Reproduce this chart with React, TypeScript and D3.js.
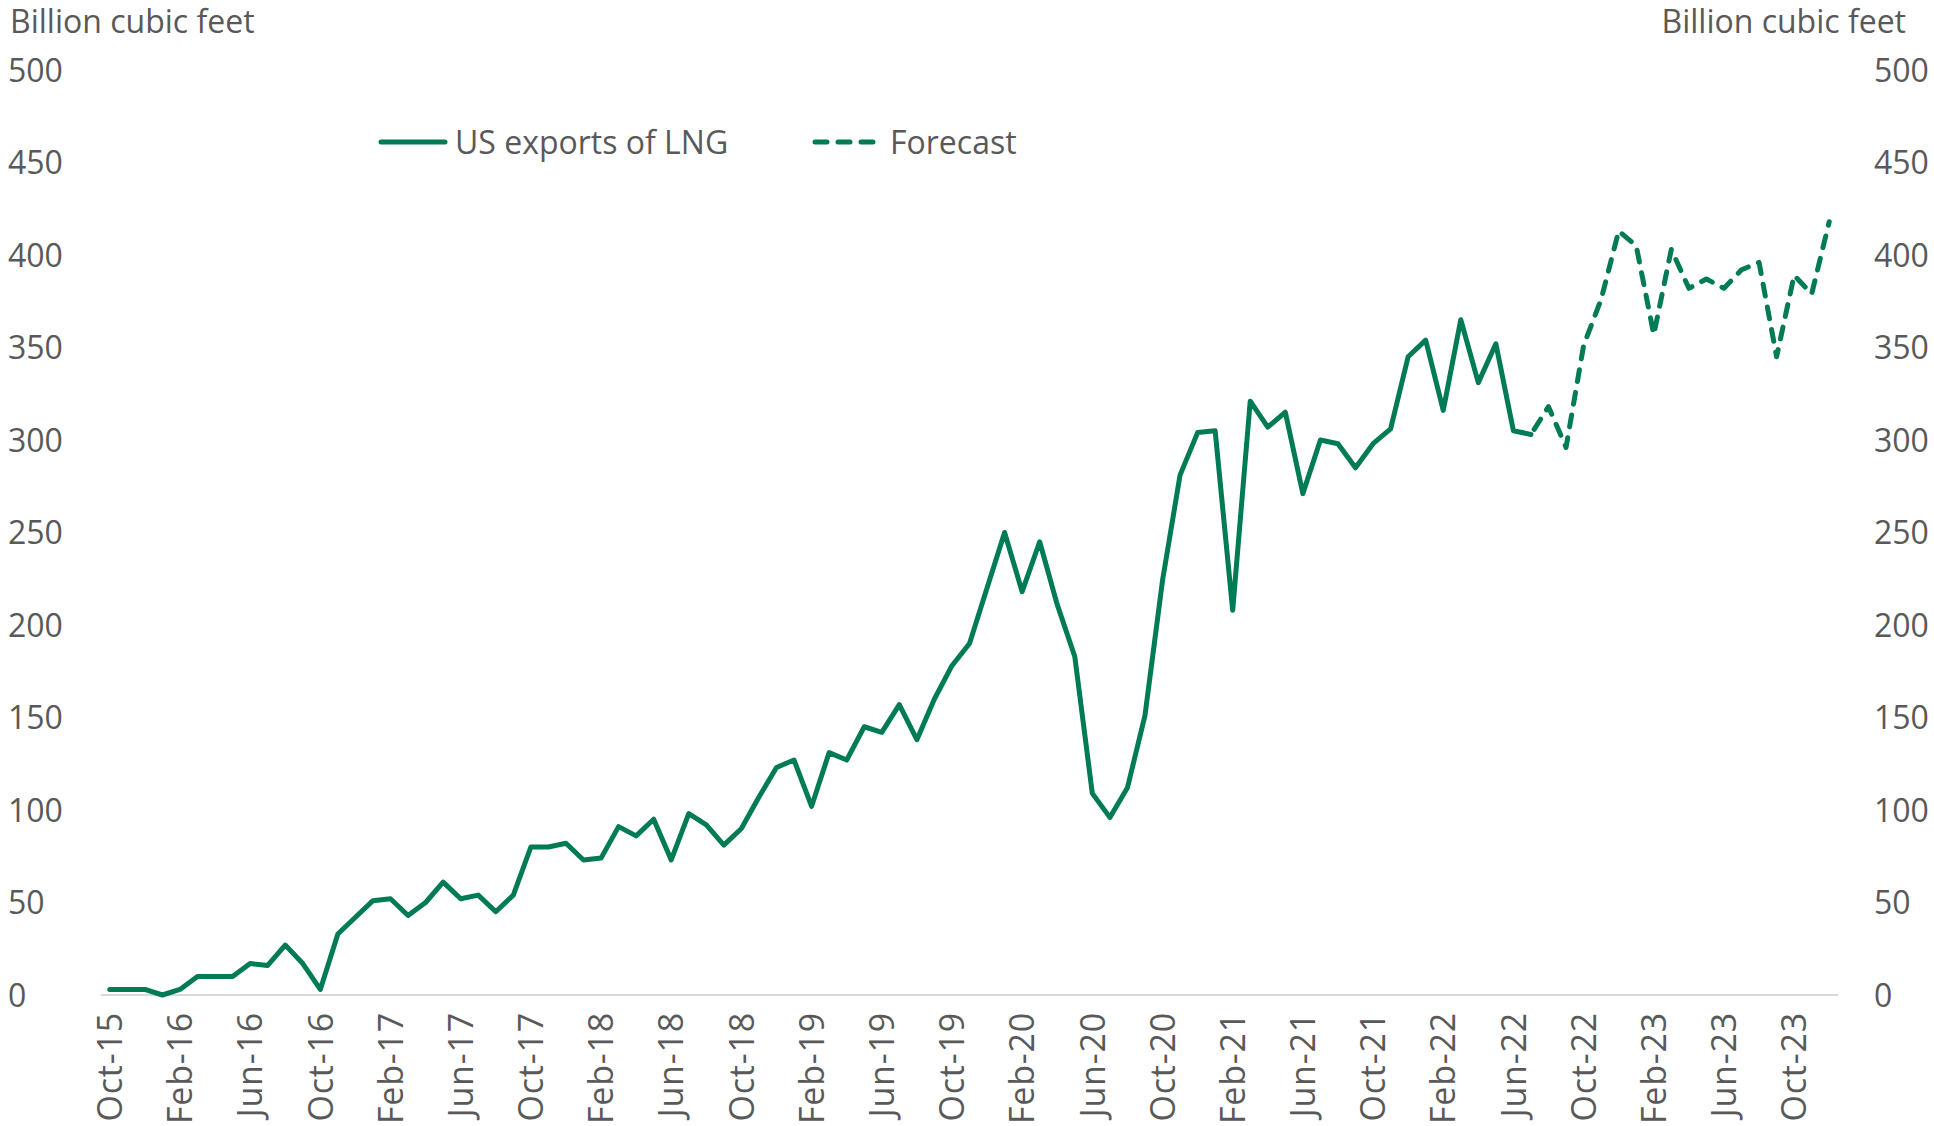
import React, { useEffect, useRef } from "react";
import * as d3 from "d3";

const months: string[] = [
  "Oct-15","Nov-15","Dec-15",
  "Jan-16","Feb-16","Mar-16","Apr-16","May-16","Jun-16","Jul-16","Aug-16","Sep-16","Oct-16","Nov-16","Dec-16",
  "Jan-17","Feb-17","Mar-17","Apr-17","May-17","Jun-17","Jul-17","Aug-17","Sep-17","Oct-17","Nov-17","Dec-17",
  "Jan-18","Feb-18","Mar-18","Apr-18","May-18","Jun-18","Jul-18","Aug-18","Sep-18","Oct-18","Nov-18","Dec-18",
  "Jan-19","Feb-19","Mar-19","Apr-19","May-19","Jun-19","Jul-19","Aug-19","Sep-19","Oct-19","Nov-19","Dec-19",
  "Jan-20","Feb-20","Mar-20","Apr-20","May-20","Jun-20","Jul-20","Aug-20","Sep-20","Oct-20","Nov-20","Dec-20",
  "Jan-21","Feb-21","Mar-21","Apr-21","May-21","Jun-21","Jul-21","Aug-21","Sep-21","Oct-21","Nov-21","Dec-21",
  "Jan-22","Feb-22","Mar-22","Apr-22","May-22","Jun-22","Jul-22","Aug-22","Sep-22","Oct-22","Nov-22","Dec-22",
  "Jan-23","Feb-23","Mar-23","Apr-23","May-23","Jun-23","Jul-23","Aug-23","Sep-23","Oct-23","Nov-23","Dec-23",
];

// US exports of LNG, Oct-15 .. Jul-22 (billion cubic feet)
const actualValues: number[] = [
  3, 3, 3, 0, 3, 10, 10, 10, 17, 16, 27, 17, 3, 33, 42,
  51, 52, 43, 50, 61, 52, 54, 45, 54, 80, 80, 82,
  73, 74, 91, 86, 95, 73, 98, 92, 81, 90, 107, 123,
  127, 102, 131, 127, 145, 142, 157, 138, 160, 178, 190, 220,
  250, 218, 245, 211, 183, 109, 96, 112, 151, 224, 281, 304,
  305, 208, 321, 307, 315, 271, 300, 298, 285, 298, 306, 345,
  354, 316, 365, 331, 352, 305, 303,
];

// Forecast, Jul-22 .. Dec-23
const forecastStart = "Jul-22";
const forecastValues: number[] = [
  303, 318, 296, 351, 376, 413, 405, 357, 403, 382, 387, 382, 392, 396, 345, 389, 379, 418,
];

const tickLabels: string[] = [
  "Oct-15","Feb-16","Jun-16","Oct-16","Feb-17","Jun-17","Oct-17","Feb-18","Jun-18",
  "Oct-18","Feb-19","Jun-19","Oct-19","Feb-20","Jun-20","Oct-20","Feb-21","Jun-21",
  "Oct-21","Feb-22","Jun-22","Oct-22","Feb-23","Jun-23","Oct-23",
];

const yTicks: number[] = [0, 50, 100, 150, 200, 250, 300, 350, 400, 450, 500];

const seriesNames = ["US exports of LNG", "Forecast"];

const W = 1934;
const H = 1126;
const GREEN = "#007B55";
const TEXT = "#595959";
const FONT = "'Open Sans', 'Noto Sans', sans-serif";
const LW = 5;

export default function App() {
  const ref = useRef<SVGSVGElement | null>(null);

  useEffect(() => {
    const svg = d3.select(ref.current);
    svg.selectAll("*").remove();

    const x = d3.scalePoint<string>().domain(months).range([101, 1838]).padding(0.5);
    const y = d3.scaleLinear().domain([0, 500]).range([995, 70]);

    const actual = actualValues.map((v, i) => ({ m: months[i], v }));
    const fIdx = months.indexOf(forecastStart);
    const forecast = forecastValues.map((v, i) => ({ m: months[fIdx + i], v }));

    const line = d3
      .line<{ m: string; v: number }>()
      .x((d) => x(d.m) as number)
      .y((d) => y(d.v));

    // baseline
    svg
      .append("line")
      .attr("x1", 101)
      .attr("x2", 1838)
      .attr("y1", y(0))
      .attr("y2", y(0))
      .attr("stroke", "#D9D9D9")
      .attr("stroke-width", 2);

    // left axis labels
    svg.append("g")
      .selectAll("text")
      .data(yTicks)
      .join("text")
      .attr("x", 8)
      .attr("y", (d) => y(d))
      .attr("dy", "0.36em")
      .attr("font-family", FONT)
      .attr("font-size", 32)
      .attr("fill", TEXT)
      .text((d) => String(d));

    // right axis labels
    svg.append("g")
      .selectAll("text")
      .data(yTicks)
      .join("text")
      .attr("x", 1874)
      .attr("y", (d) => y(d))
      .attr("dy", "0.36em")
      .attr("font-family", FONT)
      .attr("font-size", 32)
      .attr("fill", TEXT)
      .text((d) => String(d));

    // axis titles
    svg.append("text")
      .attr("x", 10)
      .attr("y", 33)
      .attr("font-family", FONT)
      .attr("font-size", 32)
      .attr("fill", TEXT)
      .text("Billion cubic feet");
    svg.append("text")
      .attr("x", 1906)
      .attr("y", 33)
      .attr("text-anchor", "end")
      .attr("font-family", FONT)
      .attr("font-size", 32)
      .attr("fill", TEXT)
      .text("Billion cubic feet");

    // x labels
    svg.append("g")
      .selectAll("text")
      .data(tickLabels)
      .join("text")
      .attr("transform", (d) => `translate(${x(d)},1012) rotate(-90)`)
      .attr("text-anchor", "end")
      .attr("dy", "0.36em")
      .attr("font-family", FONT)
      .attr("font-size", 34)
      .attr("letter-spacing", 0.8)
      .attr("fill", TEXT)
      .text((d) => d);

    // lines
    svg.append("path")
      .datum(actual)
      .attr("d", line)
      .attr("fill", "none")
      .attr("stroke", GREEN)
      .attr("stroke-width", LW)
      .attr("stroke-linejoin", "round")
      .attr("stroke-linecap", "round");

    svg.append("path")
      .datum(forecast)
      .attr("d", line)
      .attr("fill", "none")
      .attr("stroke", GREEN)
      .attr("stroke-width", LW)
      .attr("stroke-dasharray", "12 11")
      .attr("stroke-dashoffset", -6)
      .attr("stroke-linejoin", "round")
      .attr("stroke-linecap", "round");

    // legend
    const lg = svg.append("g");
    lg.append("line")
      .attr("x1", 381).attr("x2", 445).attr("y1", 142).attr("y2", 142)
      .attr("stroke", GREEN).attr("stroke-width", LW).attr("stroke-linecap", "round");
    lg.append("text")
      .attr("x", 455).attr("y", 142).attr("dy", "0.36em")
      .attr("font-family", FONT).attr("font-size", 32).attr("fill", TEXT)
      .text(seriesNames[0]);
    lg.append("line")
      .attr("x1", 815).attr("x2", 876).attr("y1", 142).attr("y2", 142)
      .attr("stroke", GREEN).attr("stroke-width", LW).attr("stroke-linecap", "round")
      .attr("stroke-dasharray", "12 11");
    lg.append("text")
      .attr("x", 890).attr("y", 142).attr("dy", "0.36em")
      .attr("font-family", FONT).attr("font-size", 32).attr("fill", TEXT)
      .text(seriesNames[1]);
  }, []);

  return (
    <svg
      ref={ref}
      width={W}
      height={H}
      style={{ position: "absolute", left: 0, top: 0, display: "block", background: "#fff" }}
    />
  );
}
